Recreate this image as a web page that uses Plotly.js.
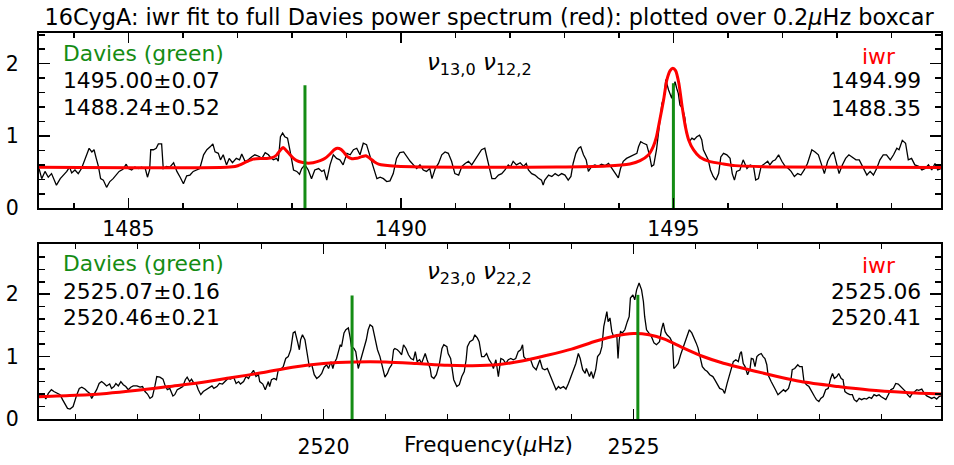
<!DOCTYPE html>
<html><head><meta charset="utf-8">
<script src="https://cdn.plot.ly/plotly-3.0.1.min.js"></script>
<style>html,body{margin:0;padding:0;background:#fff}#chart{width:954px;height:465px}</style>
</head><body><div id="chart"></div>
<script>
// ---- top panel: l=13 / l=12 pair ----
const topFreq=[1483.36,1483.41,1483.47,1483.53,1483.59,1483.68,1483.75,1483.81,1483.87,1483.92,1483.96,1484.02,1484.08,1484.14,1484.19,1484.23,1484.28,1484.33,1484.37,1484.41,1484.45,1484.49,1484.54,1484.60,1484.66,1484.72,1484.77,1484.83,1484.90,1484.96,1485.00,1485.06,1485.12,1485.18,1485.24,1485.31,1485.35,1485.39,1485.41,1485.46,1485.51,1485.55,1485.61,1485.64,1485.70,1485.76,1485.83,1485.89,1485.95,1486.01,1486.07,1486.13,1486.19,1486.25,1486.31,1486.38,1486.44,1486.50,1486.55,1486.59,1486.65,1486.69,1486.74,1486.80,1486.85,1486.91,1486.98,1487.04,1487.08,1487.14,1487.20,1487.26,1487.32,1487.39,1487.45,1487.51,1487.57,
1487.60,1487.66,1487.72,1487.75,1487.79,1487.83,1487.87,1487.92,1487.97,1488.03,1488.09,1488.14,1488.18,1488.24,1488.30,1488.36,1488.42,1488.49,1488.55,1488.59,1488.64,1488.70,1488.76,1488.82,1488.88,1488.94,1489.01,1489.07,1489.13,1489.19,1489.25,1489.31,1489.37,1489.43,1489.49,1489.56,1489.62,1489.68,1489.74,1489.80,1489.86,1489.92,1489.98,1490.05,1490.11,1490.17,1490.23,1490.29,1490.35,1490.41,1490.47,1490.53,1490.57,1490.63,1490.69,1490.75,1490.81,1490.87,1490.93,1490.99,1491.06,1491.12,1491.18,1491.24,1491.30,1491.36,1491.42,1491.48,1491.54,1491.60,1491.67,1491.73,1491.79,
1491.85,1491.91,1491.97,1492.01,1492.06,1492.12,1492.19,1492.25,1492.30,1492.34,1492.40,1492.46,1492.52,1492.58,1492.61,1492.64,1492.71,1492.77,1492.83,1492.89,1492.95,1493.01,1493.07,1493.12,1493.16,1493.21,1493.26,1493.30,1493.35,1493.40,1493.44,1493.50,1493.56,1493.62,1493.68,1493.75,1493.81,1493.87,1493.93,1493.99,1494.03,1494.08,1494.14,1494.20,1494.27,1494.33,1494.36,1494.40,1494.45,1494.51,1494.56,1494.60,1494.64,1494.69,1494.74,1494.79,1494.83,1494.86,1494.91,1494.94,1494.97,1495.00,1495.03,1495.06,1495.09,1495.12,1495.17,1495.21,1495.24,1495.29,1495.34,1495.38,1495.43,1495.48,1495.52,1495.55,1495.60,1495.64,1495.68,1495.73,1495.78,1495.83,1495.87,1495.92,1495.98,1496.04,
1496.08,1496.12,1496.16,1496.22,1496.28,1496.35,1496.41,1496.47,1496.51,1496.56,1496.61,1496.67,1496.73,1496.77,1496.82,1496.87,1496.93,1496.99,1497.05,1497.11,1497.16,1497.22,1497.28,1497.34,1497.40,1497.46,1497.54,1497.60,1497.66,1497.72,1497.77,1497.83,1497.89,1497.94,1497.98,1498.04,1498.10,1498.16,1498.22,1498.28,1498.35,1498.41,1498.47,1498.55,1498.61,1498.67,1498.73,1498.79,1498.85,1498.91,1498.98,1499.04,1499.10,1499.14,1499.20,1499.26,1499.31,1499.37,1499.43,1499.50,1499.56,1499.62,1499.68,1499.74,1499.80,1499.85,1499.91];
const topPower=[0.55,0.41,0.51,0.43,0.48,0.32,0.41,0.46,0.51,0.57,0.49,0.53,0.48,0.55,0.65,0.71,0.83,0.78,0.81,0.69,0.58,0.41,0.39,0.29,0.37,0.41,0.46,0.51,0.54,0.61,0.55,0.53,0.57,0.55,0.57,0.55,0.43,0.53,0.81,0.81,0.83,0.89,0.89,0.55,0.58,0.57,0.63,0.51,0.43,0.34,0.45,0.46,0.51,0.53,0.55,0.74,0.81,0.85,0.89,0.78,0.76,0.67,0.74,0.60,0.69,0.63,0.69,0.67,0.75,0.65,0.67,0.71,0.74,0.72,0.69,0.77,0.74,
0.71,0.67,0.69,0.65,0.99,1.04,0.99,0.97,0.78,0.53,0.51,0.47,0.55,0.60,0.53,0.41,0.53,0.55,0.51,0.53,0.39,0.60,0.74,0.69,0.67,0.60,0.76,0.74,0.81,0.83,0.74,0.90,0.88,0.71,0.58,0.41,0.43,0.41,0.37,0.38,0.48,0.69,0.77,0.78,0.71,0.65,0.60,0.55,0.60,0.53,0.51,0.55,0.41,0.55,0.62,0.74,0.78,0.76,0.65,0.48,0.46,0.58,0.62,0.65,0.60,0.67,0.74,0.81,0.83,0.65,0.41,0.41,0.46,
0.48,0.53,0.60,0.57,0.65,0.60,0.63,0.58,0.62,0.53,0.48,0.46,0.42,0.39,0.32,0.39,0.46,0.44,0.48,0.45,0.48,0.46,0.39,0.44,0.62,0.76,0.83,0.85,0.74,0.67,0.51,0.58,0.60,0.58,0.61,0.59,0.62,0.55,0.48,0.42,0.55,0.65,0.69,0.71,0.74,0.76,0.85,0.92,0.90,0.88,0.74,0.58,0.60,0.81,1.13,1.45,1.54,1.78,1.64,1.59,1.52,1.68,1.75,1.66,1.59,1.43,1.38,1.25,1.04,0.92,0.97,0.95,0.99,1.01,0.95,0.81,0.74,0.67,0.53,0.44,0.39,0.48,0.71,0.76,0.74,0.69,
0.48,0.39,0.51,0.53,0.67,0.55,0.60,0.58,0.39,0.41,0.58,0.62,0.65,0.60,0.65,0.67,0.74,0.65,0.58,0.55,0.51,0.44,0.48,0.46,0.53,0.62,0.81,0.78,0.74,0.60,0.48,0.65,0.74,0.78,0.67,0.48,0.60,0.69,0.74,0.71,0.67,0.67,0.58,0.46,0.51,0.46,0.55,0.67,0.74,0.74,0.67,0.74,0.83,0.81,0.94,0.90,0.67,0.69,0.60,0.58,0.53,0.55,0.60,0.53,0.62,0.53,0.55];
const topFitFreq=[1483.36,1486.80,1486.99,1487.17,1487.29,1487.42,1487.54,1487.64,1487.72,1487.78,1487.84,1487.90,1487.97,1488.03,1488.09,1488.18,1488.27,1488.39,1488.52,1488.61,1488.70,1488.77,1488.83,1488.90,1488.96,1489.02,1489.10,1489.19,1489.28,1489.36,1489.43,1489.51,1489.59,1489.71,1489.92,1490.35,1491.82,1492.86,1493.78,1494.20,1494.39,1494.54,1494.63,1494.69,1494.75,1494.82,1494.88,1494.94,1494.99,1495.04,1495.10,1495.16,1495.22,1495.28,1495.37,1495.49,1495.67,1495.92,1496.13,1496.99,1499.91];
const topFitPower=[0.567,0.567,0.585,0.645,0.680,0.690,0.690,0.700,0.737,0.797,0.840,0.797,0.737,0.691,0.659,0.636,0.625,0.630,0.659,0.691,0.751,0.806,0.829,0.815,0.769,0.714,0.686,0.691,0.714,0.728,0.691,0.645,0.612,0.594,0.580,0.571,0.568,0.570,0.585,0.613,0.659,0.737,0.853,0.991,1.222,1.498,1.775,1.904,1.936,1.904,1.729,1.406,1.129,0.945,0.807,0.705,0.645,0.613,0.590,0.570,0.565];
const topDaviesFreq=[1495.00,1488.24];
const topDaviesHeight=[1.73,1.70];
const topTickVals=[1485,1490,1495];
const topTickText=['1485','1490','1495'];
const topDaviesText=['Davies (green)','1495.00±0.07','1488.24±0.52'];
const topIwrText=['iwr','1494.99','1488.35'];
const topModeText='<i>ν</i><sub>13,0</sub> <i>ν</i><sub>12,2</sub>';

// ---- bottom panel: l=23 / l=22 pair ----
const botFreq=[2515.40,2515.44,2515.48,2515.52,2515.56,2515.61,2515.65,2515.70,2515.75,2515.79,2515.83,2515.87,2515.91,2515.96,2516.02,2516.06,2516.10,2516.15,2516.19,2516.23,2516.26,2516.30,2516.34,2516.38,2516.42,2516.46,2516.50,2516.55,2516.58,2516.62,2516.65,2516.69,2516.73,2516.77,2516.81,2516.85,2516.89,2516.93,2516.99,2517.04,2517.08,2517.12,2517.16,2517.20,2517.24,2517.28,2517.31,2517.36,2517.41,2517.44,2517.48,2517.52,2517.57,2517.60,2517.64,2517.68,2517.73,2517.77,2517.80,2517.84,2517.87,2517.91,2517.94,2517.98,2518.02,2518.06,2518.10,2518.14,2518.20,2518.23,2518.28,2518.32,2518.37,2518.41,2518.46,2518.50,2518.55,2518.59,2518.63,2518.66,2518.71,2518.75,2518.79,2518.82,2518.87,2518.91,2518.95,2518.97,2519.02,2519.06,2519.11,
2519.13,2519.16,2519.20,2519.24,2519.27,2519.31,2519.35,2519.39,2519.43,2519.47,2519.51,2519.54,2519.58,2519.61,2519.63,2519.66,2519.70,2519.74,2519.77,2519.81,2519.85,2519.89,2519.93,2519.97,2520.01,2520.05,2520.08,2520.12,2520.15,2520.17,2520.21,2520.24,2520.27,2520.29,2520.33,2520.36,2520.40,2520.43,2520.45,2520.49,2520.52,2520.56,2520.59,2520.62,2520.64,2520.69,2520.72,2520.75,2520.79,2520.83,2520.87,2520.91,2520.95,2520.99,2521.03,2521.06,2521.10,2521.13,2521.15,2521.19,2521.22,2521.26,2521.29,2521.33,2521.37,2521.41,2521.45,2521.48,2521.51,2521.55,2521.58,2521.61,2521.64,2521.67,2521.72,2521.74,2521.78,2521.82,2521.87,2521.91,2521.94,2521.99,2522.01,2522.05,2522.08,2522.10,2522.15,2522.19,2522.23,2522.27,2522.30,2522.32,2522.36,2522.41,2522.44,2522.48,2522.51,2522.55,2522.59,2522.63,2522.67,2522.71,2522.74,2522.78,2522.82,
2522.86,2522.90,2522.94,2522.98,2523.02,2523.06,2523.10,2523.14,2523.18,2523.21,2523.23,2523.27,2523.30,2523.34,2523.38,2523.43,2523.46,2523.49,2523.53,2523.57,2523.61,2523.64,2523.68,2523.72,2523.75,2523.79,2523.82,2523.87,2523.91,2523.95,2523.99,2524.03,2524.07,2524.11,2524.14,2524.18,2524.22,2524.24,2524.29,2524.32,2524.35,2524.39,2524.42,2524.46,2524.49,2524.52,2524.57,2524.59,2524.62,2524.65,2524.68,2524.73,2524.75,2524.77,2524.79,2524.82,2524.86,2524.90,2524.93,2524.95,2524.99,2525.02,2525.05,2525.09,2525.13,2525.16,2525.18,2525.21,2525.25,2525.29,2525.33,2525.37,2525.42,2525.45,2525.48,2525.51,2525.54,2525.59,2525.63,2525.65,2525.68,2525.72,2525.76,2525.79,2525.83,2525.86,2525.90,2525.94,2525.97,2526.01,2526.04,2526.08,2526.11,2526.15,2526.19,2526.23,2526.28,2526.31,2526.35,2526.39,2526.44,2526.47,2526.51,2526.54,
2526.58,2526.61,2526.65,2526.69,2526.72,2526.74,2526.77,2526.80,2526.84,2526.88,2526.90,2526.93,2526.96,2526.99,2527.02,2527.06,2527.09,2527.12,2527.15,2527.17,2527.22,2527.25,2527.29,2527.33,2527.38,2527.42,2527.45,2527.50,2527.54,2527.56,2527.60,2527.65,2527.68,2527.72,2527.75,2527.79,2527.83,2527.87,2527.92,2527.95,2527.99,2528.02,2528.06,2528.10,2528.14,2528.18,2528.21,2528.24,2528.28,2528.31,2528.35,2528.38,2528.41,2528.45,2528.49,2528.53,2528.56,2528.60,2528.64,2528.68,2528.72,2528.76,2528.80,2528.84,2528.88,2528.92,2528.96,2528.99,2529.03,2529.07,2529.11,2529.15,2529.19,2529.23,2529.27,2529.31,2529.35,2529.39,2529.42,2529.46,2529.49,2529.53,2529.57,2529.60,2529.65,2529.69,2529.73,2529.77,2529.81,2529.85,2529.89,2529.93,2529.96];
const botPower=[0.39,0.36,0.40,0.32,0.41,0.47,0.44,0.41,0.39,0.31,0.23,0.17,0.16,0.20,0.39,0.49,0.51,0.48,0.44,0.41,0.33,0.39,0.47,0.57,0.60,0.57,0.53,0.56,0.49,0.52,0.57,0.53,0.60,0.55,0.52,0.47,0.51,0.53,0.53,0.51,0.52,0.44,0.40,0.33,0.36,0.53,0.68,0.67,0.64,0.55,0.47,0.49,0.37,0.39,0.47,0.49,0.52,0.63,0.67,0.60,0.64,0.57,0.58,0.47,0.39,0.44,0.47,0.49,0.53,0.49,0.52,0.57,0.56,0.60,0.65,0.64,0.67,0.57,0.60,0.56,0.60,0.68,0.65,0.71,0.78,0.68,0.71,0.60,0.56,0.47,0.60,
0.52,0.63,0.65,0.63,0.79,0.80,0.84,0.97,1.00,1.11,1.38,1.40,1.24,1.11,1.27,1.35,1.27,1.00,0.84,0.87,0.71,0.65,0.68,0.73,0.83,0.87,0.81,0.92,0.81,0.89,0.97,1.08,1.19,1.16,1.38,1.43,1.46,1.30,1.16,1.13,1.08,0.81,0.92,1.00,1.08,1.27,1.43,1.51,1.48,1.27,1.11,1.00,0.81,0.67,0.73,0.81,0.87,1.11,1.13,1.11,1.08,1.03,1.19,1.13,1.03,0.97,0.95,1.08,0.92,0.95,0.89,0.97,1.05,0.95,0.81,0.68,0.65,0.71,0.89,1.13,1.19,1.16,1.05,0.97,0.79,0.63,0.52,0.55,0.68,0.76,0.95,1.16,1.24,1.27,1.35,1.30,1.24,1.00,1.00,1.05,0.95,0.89,0.81,0.95,0.68,
0.97,0.95,0.89,0.95,0.97,0.95,0.97,1.08,1.11,1.19,1.00,0.95,0.97,0.95,0.84,0.79,0.89,0.95,0.81,0.79,0.81,0.73,0.65,0.55,0.47,0.52,0.49,0.52,0.48,0.57,0.68,0.79,0.89,1.05,0.97,0.79,0.73,0.81,0.68,0.76,0.65,0.79,1.00,1.05,1.16,1.48,1.72,1.56,1.62,1.40,1.32,1.35,0.97,1.27,1.40,1.38,1.43,1.56,1.64,1.94,1.99,1.91,2.07,2.18,2.07,1.88,1.64,1.43,1.38,1.32,1.22,1.19,1.24,1.43,1.54,1.40,1.35,1.30,1.22,0.81,0.84,0.89,1.03,1.11,1.22,1.32,1.43,1.38,1.32,1.22,1.14,0.97,0.84,0.79,0.76,0.71,0.68,0.63,0.57,0.49,0.47,0.41,0.57,0.68,
0.84,0.92,0.95,0.92,1.05,1.08,0.89,0.84,0.71,0.81,0.97,0.96,0.84,1.00,1.03,1.05,1.00,0.97,0.87,0.71,0.60,0.55,0.47,0.39,0.44,0.47,0.44,0.49,0.63,0.79,0.81,0.87,0.84,0.84,0.60,0.55,0.52,0.44,0.36,0.31,0.28,0.33,0.36,0.47,0.49,0.65,0.73,0.65,0.68,0.73,0.65,0.63,0.44,0.41,0.39,0.39,0.31,0.28,0.33,0.31,0.33,0.32,0.35,0.33,0.39,0.37,0.39,0.36,0.33,0.31,0.39,0.47,0.49,0.57,0.56,0.52,0.47,0.44,0.39,0.35,0.40,0.44,0.47,0.46,0.48,0.41,0.37,0.35,0.33,0.35,0.32,0.36,0.37];
const botFitFreq=[2515.41,2516.0,2516.5,2517.0,2517.5,2518.0,2518.5,2519.0,2519.5,2520.0,2520.5,2521.0,2521.5,2522.0,2522.4,2522.8,2523.2,2523.6,2524.0,2524.4,2524.7,2525.0,2525.25,2525.5,2525.8,2526.1,2526.4,2526.7,2527.2,2527.7,2528.3,2528.8,2529.4,2529.96];
const botFitPower=[0.358,0.38,0.41,0.46,0.52,0.58,0.66,0.74,0.83,0.89,0.915,0.915,0.89,0.86,0.855,0.87,0.93,1.02,1.12,1.25,1.33,1.37,1.35,1.28,1.14,1.01,0.91,0.83,0.71,0.60,0.52,0.465,0.425,0.40];
const botDaviesFreq=[2525.07,2520.46];
const botDaviesHeight=[1.99,1.98];
const botTickVals=[2520,2525];
const botTickText=['2520','2525'];
const botDaviesText=['Davies (green)','2525.07±0.16','2520.46±0.21'];
const botIwrText=['iwr','2525.06','2520.41'];
const botModeText='<i>ν</i><sub>23,0</sub> <i>ν</i><sub>22,2</sub>';
const yTickVals=[0,1,2];
const yTickText=['0','1','2'];
const titleText='16CygA: iwr fit to full Davies power spectrum (red): plotted over 0.2<i>μ</i>Hz boxcar';
const xTitleText='Frequency(<i>μ</i>Hz)';

// ---- drawing ----
const W=954,H=465;
const FONT='DejaVu Sans, sans-serif';
const GREEN='rgb(20,140,20)';
const px=x=>x/W, py=y=>1-y/H;

function greenTraces(freqs,heights,xa,ya){
  return freqs.map((f,i)=>({x:[f,f],y:[0,heights[i]],type:'scatter',mode:'lines',xaxis:xa,yaxis:ya,
    line:{color:GREEN,width:3},hoverinfo:'skip'}));
}
const data=[
  {x:topFreq,y:topPower,type:'scatter',mode:'lines',line:{color:'#000',width:1.3},xaxis:'x',yaxis:'y'},
  {x:topFitFreq,y:topFitPower,type:'scatter',mode:'lines',line:{color:'#ff0000',width:3,shape:'spline',smoothing:0.6},xaxis:'x',yaxis:'y'},
  ...greenTraces(topDaviesFreq,topDaviesHeight,'x','y'),
  {x:botFreq,y:botPower,type:'scatter',mode:'lines',line:{color:'#000',width:1.3},xaxis:'x2',yaxis:'y2'},
  {x:botFitFreq,y:botFitPower,type:'scatter',mode:'lines',line:{color:'#ff0000',width:3,shape:'spline',smoothing:0.8},xaxis:'x2',yaxis:'y2'},
  ...greenTraces(botDaviesFreq,botDaviesHeight,'x2','y2')
];

const xDom=[39/W,941/W];
function xaxisCfg(range,vals,text,anchor,standoff){
  return {domain:xDom,range:range,anchor:anchor,tickmode:'array',tickvals:vals,ticktext:text,
    ticks:'inside',ticklen:10,tickwidth:1.5,tickcolor:'#000',
    minor:{dtick:1,tick0:0,ticks:'inside',ticklen:5,tickwidth:1.5,tickcolor:'#000'},
    showline:true,linewidth:2,linecolor:'#000',mirror:'ticks',showgrid:false,zeroline:false,
    ticklabelstandoff:standoff,tickfont:{family:FONT,size:20.5,color:'#000'}};
}
function yaxisCfg(range,dom,anchor){
  return {domain:dom,range:range,anchor:anchor,tickmode:'array',tickvals:yTickVals,ticktext:yTickText,
    ticks:'inside',ticklen:11,tickwidth:1.5,tickcolor:'#000',
    minor:{dtick:0.2,tick0:0,ticks:'inside',ticklen:6,tickwidth:1.5,tickcolor:'#000'},
    showline:true,linewidth:2,linecolor:'#000',mirror:'ticks',showgrid:false,zeroline:false,
    ticklabelstandoff:14,tickfont:{family:FONT,size:20.5,color:'#000'}};
}

function ann(text,x,y,xanchor,color,size){
  return {text:text,xref:'paper',yref:'paper',x:px(x),y:py(y),xanchor:xanchor,yanchor:'middle',
    showarrow:false,font:{family:FONT,size:size||21.8,color:color||'#000'}};
}
const annotations=[
  ann(topDaviesText[0],61,54,'left',GREEN),
  ann(topDaviesText[1],61,80.5,'left'),
  ann(topDaviesText[2],61,107.5,'left'),
  ann(topModeText,479,64,'center','#000',23),
  ann(topIwrText[0],897,56,'right','#ff0000'),
  ann(topIwrText[1],923,80.5,'right'),
  ann(topIwrText[2],923,108,'right'),
  ann(botDaviesText[0],61,263,'left',GREEN),
  ann(botDaviesText[1],61,291.5,'left'),
  ann(botDaviesText[2],61,317.5,'left'),
  ann(botModeText,479,273,'center','#000',23),
  ann(botIwrText[0],897,265,'right','#ff0000'),
  ann(botIwrText[1],923,291.5,'right'),
  ann(botIwrText[2],923,317.5,'right'),
  ann(xTitleText,488,444,'center','#000',21.5)
];

const layout={
  width:W,height:H,margin:{l:0,r:0,t:0,b:0},paper_bgcolor:'#fff',plot_bgcolor:'#fff',showlegend:false,
  title:{text:titleText,x:489/W,xanchor:'center',y:1-17/H,yanchor:'middle',font:{family:FONT,size:22.4,color:'#000'}},
  xaxis:xaxisCfg([1483.36,1499.91],topTickVals,topTickText,'y',1),
  yaxis:yaxisCfg([0,2.42],[1-208.3/H,1-33.3/H],'x'),
  xaxis2:xaxisCfg([2515.41,2529.96],botTickVals,botTickText,'y2',8),
  yaxis2:yaxisCfg([0,2.81],[1-419/H,1-243.7/H],'x2'),
  annotations:annotations
};
Plotly.newPlot('chart',data,layout,{displayModeBar:false,staticPlot:true});
</script></body></html>
